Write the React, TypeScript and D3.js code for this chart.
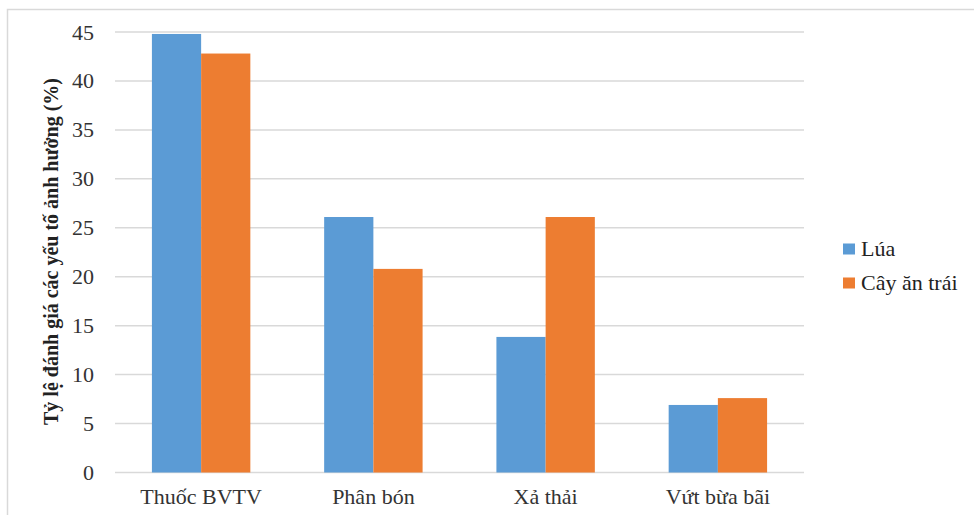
import React, { useRef, useEffect } from 'react';
import { select, scaleBand, scaleLinear, axisLeft, range } from 'd3';

const categories = ['Thuốc BVTV', 'Phân bón', 'Xả thải', 'Vứt bừa bãi'];
const seriesNames = ['Lúa', 'Cây ăn trái'];
const luaValues = [44.8, 26.1, 13.85, 6.9];
const cayAnTraiValues = [42.8, 20.8, 26.1, 7.6];
const yTicks = [0, 5, 10, 15, 20, 25, 30, 35, 40, 45];
const colors = ['#5b9bd5', '#ed7d31'];

const width = 974;
const height = 515;
const margin = { top: 32, right: 170, bottom: 42.5, left: 115 };
const font = 'Liberation Serif';

export default function App() {
  const svgRef = useRef<SVGSVGElement>(null);

  useEffect(() => {
    const svg = select(svgRef.current);
    svg.selectAll('*').remove();

    const innerW = width - margin.left - margin.right;
    const innerH = height - margin.top - margin.bottom;

    // frame (top + left edges visible)
    svg.append('rect')
      .attr('x', 7.5).attr('y', 9.5)
      .attr('width', width + 20).attr('height', height + 20)
      .attr('fill', 'white')
      .attr('stroke', '#d9d9d9').attr('stroke-width', 1.5);

    const g = svg.append('g').attr('transform', `translate(${margin.left},${margin.top})`);

    const x = scaleBand().domain(categories).range([0, innerW]).paddingInner(0).paddingOuter(0);
    const y = scaleLinear().domain([0, 45]).range([innerH, 0]);

    // gridlines
    g.append('g')
      .selectAll('line')
      .data(yTicks)
      .join('line')
      .attr('x1', 0).attr('x2', innerW)
      .attr('y1', d => y(d)).attr('y2', d => y(d))
      .attr('stroke', '#d9d9d9').attr('stroke-width', 1.5);

    // y axis labels
    const yAxis = axisLeft(y).tickValues(yTicks).tickSize(0).tickPadding(21);
    const ya = g.append('g').call(yAxis);
    ya.select('.domain').remove();
    ya.selectAll('text')
      .style('font-family', font).style('font-size', '22px').attr('fill', '#333');

    // bars
    const band = x.bandwidth();
    const barW = band / 3.5;
    const data = categories.map((c, i) => ({ c, vals: [luaValues[i], cayAnTraiValues[i]] }));
    const groups = g.append('g').selectAll('g')
      .data(data)
      .join('g')
      .attr('transform', d => `translate(${(x(d.c) as number) + band / 2 - barW},0)`);
    groups.selectAll('rect')
      .data(d => d.vals.map((v, k) => ({ v, k })))
      .join('rect')
      .attr('x', d => d.k * barW)
      .attr('y', d => y(d.v))
      .attr('width', barW)
      .attr('height', d => y(0) - y(d.v))
      .attr('fill', d => colors[d.k]);

    // x labels
    g.append('g').selectAll('text')
      .data(categories)
      .join('text')
      .attr('x', d => (x(d) as number) + band / 2)
      .attr('y', innerH + 31.5)
      .attr('text-anchor', 'middle')
      .style('font-family', font).style('font-size', '22px').attr('fill', '#333')
      .text(d => d);

    // y title
    svg.append('text')
      .attr('transform', `translate(58,251.5) rotate(-90)`)
      .attr('text-anchor', 'middle')
      .style('font-family', font).style('font-size', '20px').style('font-weight', 'bold')
      .attr('fill', '#222')
      .text('Tỷ lệ đánh giá các yếu tố ảnh hưởng (%)');

    // legend
    const lg = svg.append('g').attr('transform', 'translate(843,243.5)');
    const items = lg.selectAll('g')
      .data(range(seriesNames.length))
      .join('g')
      .attr('transform', i => `translate(0,${i * 34})`);
    items.append('rect')
      .attr('width', 12).attr('height', 11)
      .attr('fill', i => colors[i]);
    items.append('text')
      .attr('x', 18).attr('y', 12)
      .style('font-family', font).style('font-size', '22px').attr('fill', '#222')
      .text(i => seriesNames[i]);
  }, []);

  return (
    <svg
      ref={svgRef}
      width={width}
      height={height}
      style={{ position: 'absolute', left: 0, top: 0, background: 'white' }}
    />
  );
}
